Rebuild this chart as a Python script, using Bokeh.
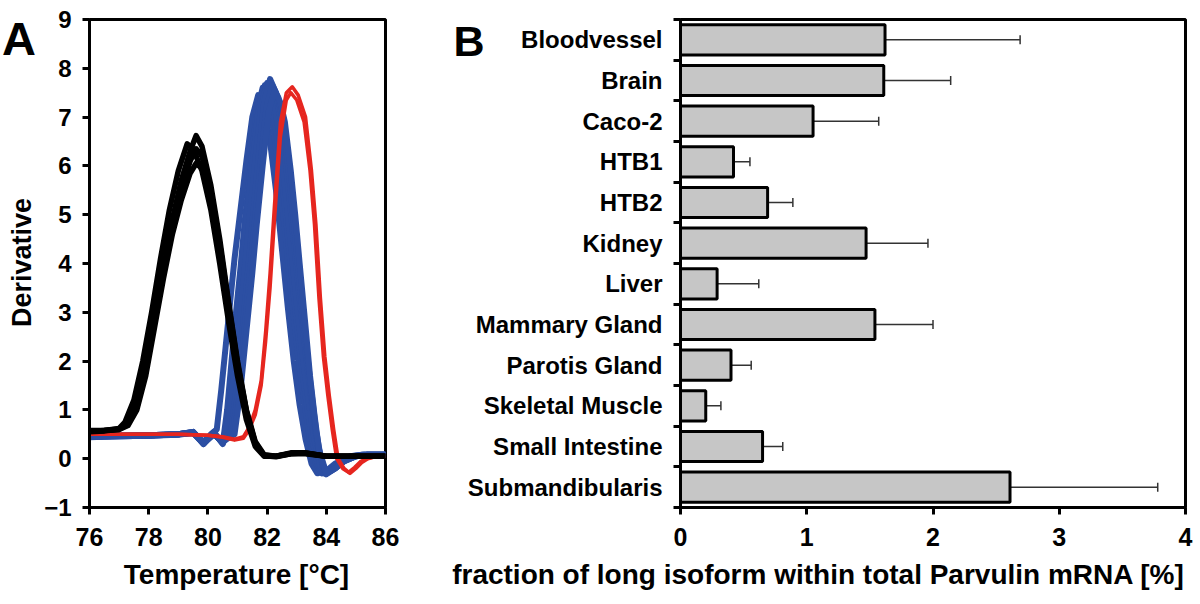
import math
from bokeh.plotting import figure
from bokeh.layouts import row, column
from bokeh.models import ColumnDataSource, Whisker, TeeHead, FixedTicker, Label, Range1d
from bokeh.core.properties import value
from bokeh.embed import file_html
from bokeh.resources import INLINE

FONT = "Liberation Sans"

# ---------------- Panel A: melting curves (derivative) ----------------
black_t = [76, 76.5, 77, 77.3, 77.6, 77.9, 78.2, 78.5, 78.8, 79.1, 79.4, 79.6, 79.8, 80.1, 80.4, 80.7, 81.0, 81.3, 81.6, 81.9, 82.3, 82.8, 83.3, 84, 85, 86]
black1_v = [0.55, 0.57, 0.6, 0.7, 1.1, 1.9, 2.9, 3.9, 4.9, 5.7, 6.3, 6.62, 6.4, 5.6, 4.5, 3.2, 2.0, 1.0, 0.35, 0.08, 0.05, 0.12, 0.12, 0.05, 0.05, 0.05]
black3_v = [0.56, 0.58, 0.6, 0.68, 1.0, 1.7, 2.7, 3.7, 4.6, 5.3, 5.85, 6.05, 5.95, 5.3, 4.3, 3.1, 1.9, 0.95, 0.3, 0.06, 0.04, 0.1, 0.1, 0.05, 0.05, 0.05]
black4_v = [0.57, 0.58, 0.61, 0.72, 1.05, 1.8, 2.8, 3.8, 4.75, 5.5, 6.1, 6.35, 6.2, 5.45, 4.4, 3.15, 1.95, 0.98, 0.32, 0.07, 0.05, 0.11, 0.11, 0.05, 0.05, 0.05]
black2_t = [76, 76.5, 77, 77.2, 77.5, 77.8, 78.1, 78.4, 78.7, 79.0, 79.3, 79.5, 79.8, 80.1, 80.4, 80.7, 81.0, 81.3, 81.6, 81.9, 82.3, 82.8, 83.3, 84, 85, 86]
black2_v = [0.58, 0.58, 0.62, 0.75, 1.2, 2.0, 3.0, 4.1, 5.1, 5.9, 6.45, 6.35, 5.9, 5.1, 4.0, 2.8, 1.7, 0.8, 0.25, 0.05, 0.05, 0.1, 0.12, 0.05, 0.05, 0.05]

red1_t = [76, 77, 78, 79, 80, 80.5, 80.9, 81.2, 81.4, 81.6, 81.8, 81.95, 82.1, 82.25, 82.45, 82.65, 82.85, 83.05, 83.3, 83.5, 83.65, 83.8, 83.95, 84.1, 84.25, 84.4, 84.6, 84.8, 85.0, 85.2, 85.4, 85.7, 86]
red1_v = [0.5, 0.5, 0.5, 0.5, 0.48, 0.45, 0.4, 0.45, 0.65, 1.0, 1.6, 2.6, 3.8, 5.2, 6.9, 7.5, 7.62, 7.45, 7.0, 5.9, 4.8, 3.3, 2.1, 1.3, 0.6, 0.0, -0.2, -0.3, -0.2, -0.08, 0.0, 0.05, 0.05]
red2_t = [76, 77, 78, 79, 80, 80.5, 80.9, 81.2, 81.4, 81.6, 81.8, 81.95, 82.1, 82.25, 82.45, 82.65, 82.8, 83.0, 83.25, 83.45, 83.6, 83.75, 83.9, 84.05, 84.2, 84.35, 84.55, 84.75, 84.95, 85.15, 85.35, 85.7, 86]
red2_v = [0.5, 0.5, 0.5, 0.5, 0.48, 0.44, 0.38, 0.42, 0.6, 0.9, 1.5, 2.4, 3.5, 4.9, 6.6, 7.35, 7.5, 7.35, 6.9, 5.9, 4.8, 3.3, 2.1, 1.3, 0.6, 0.0, -0.2, -0.28, -0.18, -0.06, 0.0, 0.05, 0.05]

blue1_t = [76, 77, 78, 79, 79.5, 79.85, 80.1, 80.3, 80.45, 80.6, 80.75, 80.9, 81.1, 81.3, 81.5, 81.7, 81.9, 82.1, 82.3, 82.5, 82.7, 82.9, 83.1, 83.3, 83.5, 83.7, 84.0, 84.3, 84.7, 85.2, 86]
blue1_v = [0.45, 0.47, 0.48, 0.5, 0.55, 0.3, 0.5, 0.6, 1.4, 2.3, 3.2, 4.1, 5.1, 6.1, 7.0, 7.45, 7.2, 6.5, 5.5, 4.3, 3.1, 2.0, 1.1, 0.4, -0.1, -0.3, -0.25, -0.1, 0.0, 0.08, 0.08]
blue2_t = [76, 77, 78, 79, 79.5, 79.85, 80.2, 80.5, 80.65, 80.8, 80.95, 81.1, 81.25, 81.45, 81.65, 81.85, 82.05, 82.25, 82.45, 82.65, 82.85, 83.05, 83.25, 83.45, 83.65, 83.85, 84.1, 84.4, 84.8, 85.2, 86]
blue2_v = [0.44, 0.46, 0.47, 0.5, 0.52, 0.35, 0.55, 0.3, 1.0, 2.0, 3.0, 3.9, 4.9, 6.0, 7.1, 7.6, 7.35, 6.6, 5.6, 4.4, 3.2, 2.1, 1.2, 0.4, -0.1, -0.3, -0.25, -0.1, 0.05, 0.08, 0.08]
blue2b_t = [76, 77, 78, 79, 79.5, 79.85, 80.2, 80.5, 80.7, 80.85, 81.0, 81.15, 81.3, 81.5, 81.7, 81.92, 82.12, 82.32, 82.52, 82.72, 82.92, 83.12, 83.32, 83.52, 83.72, 83.92, 84.15, 84.45, 84.85, 85.25, 86]
blue2b_v = [0.45, 0.46, 0.47, 0.5, 0.53, 0.33, 0.52, 0.32, 0.9, 1.9, 2.9, 3.9, 4.9, 6.0, 7.1, 7.65, 7.4, 6.65, 5.65, 4.45, 3.25, 2.15, 1.2, 0.4, -0.12, -0.3, -0.22, -0.08, 0.05, 0.08, 0.08]
blue3_t = [76, 77, 78, 79, 79.5, 79.85, 80.2, 80.5, 80.7, 80.9, 81.1, 81.25, 81.4, 81.6, 81.8, 82.0, 82.2, 82.4, 82.6, 82.8, 83.0, 83.2, 83.4, 83.6, 83.8, 84.0, 84.2, 84.5, 84.9, 85.3, 86]
blue3_v = [0.46, 0.47, 0.48, 0.5, 0.54, 0.32, 0.5, 0.35, 0.8, 1.8, 2.9, 3.9, 4.9, 6.1, 7.2, 7.7, 7.45, 6.7, 5.6, 4.4, 3.2, 2.1, 1.2, 0.4, -0.15, -0.3, -0.2, -0.05, 0.05, 0.08, 0.08]
blue4_t = [76, 77, 78, 79, 79.5, 79.85, 80.2, 80.5, 80.8, 81.0, 81.2, 81.35, 81.5, 81.7, 81.9, 82.1, 82.3, 82.5, 82.7, 82.9, 83.1, 83.3, 83.5, 83.7, 83.9, 84.0, 84.3, 84.6, 85.0, 85.4, 86]
blue4_v = [0.45, 0.46, 0.47, 0.49, 0.53, 0.3, 0.52, 0.32, 0.6, 1.6, 2.8, 3.8, 4.8, 6.1, 7.3, 7.78, 7.5, 6.8, 5.7, 4.5, 3.3, 2.2, 1.2, 0.3, -0.2, -0.32, -0.2, -0.05, 0.05, 0.08, 0.08]
blue4b_t = [76, 77, 78, 79, 79.5, 79.85, 80.2, 80.5, 80.85, 81.05, 81.25, 81.42, 81.58, 81.78, 81.98, 82.18, 82.38, 82.55, 82.75, 82.92, 83.1, 83.3, 83.48, 83.65, 83.82, 84.0, 84.3, 84.6, 85.0, 85.4, 86]
blue4b_v = [0.46, 0.47, 0.48, 0.5, 0.54, 0.31, 0.51, 0.33, 0.55, 1.5, 2.7, 3.8, 4.8, 6.05, 7.2, 7.65, 7.4, 6.85, 5.8, 4.75, 3.6, 2.45, 1.45, 0.6, 0.0, -0.3, -0.2, -0.05, 0.05, 0.08, 0.08]
blue5_t = [76, 77, 78, 79, 79.5, 79.85, 80.2, 80.5, 80.9, 81.1, 81.3, 81.5, 81.65, 81.85, 82.05, 82.25, 82.45, 82.6, 82.8, 82.95, 83.1, 83.3, 83.45, 83.6, 83.75, 84.0, 84.3, 84.6, 85.0, 85.4, 86]
blue5_v = [0.46, 0.47, 0.48, 0.5, 0.55, 0.33, 0.5, 0.35, 0.5, 1.4, 2.6, 3.8, 4.8, 6.0, 7.1, 7.55, 7.3, 6.9, 5.9, 5.0, 4.0, 2.7, 1.7, 0.9, 0.2, -0.3, -0.2, -0.05, 0.05, 0.08, 0.08]

x_ticks_A = [76, 78, 80, 82, 84, 86]
y_ticks_A = [-1, 0, 1, 2, 3, 4, 5, 6, 7, 8, 9]

# ---------------- Panel B: bar chart ----------------
tissues = ["Bloodvessel", "Brain", "Caco-2", "HTB1", "HTB2", "Kidney", "Liver",
           "Mammary Gland", "Parotis Gland", "Skeletal Muscle", "Small Intestine",
           "Submandibularis"]
fraction = [1.62, 1.61, 1.05, 0.42, 0.69, 1.47, 0.29, 1.54, 0.40, 0.20, 0.65, 2.61]
err_low = [0.85, 1.17, 0.60, 0.32, 0.51, 1.13, 0.03, 1.15, 0.25, 0.11, 0.52, 1.73]
err_high = [2.69, 2.14, 1.57, 0.55, 0.89, 1.96, 0.62, 2.00, 0.56, 0.32, 0.81, 3.78]
x_ticks_B = [0, 1, 2, 3, 4]

BLUE = "#2c4fa3"
RED = "#e6261f"

TOP_H = 557      # height of the row holding the two panels
TOP_B = 19       # border above the plot frames
BOT_B = 50       # border below the plot frames (tick labels)
STRIP_H = 45     # bottom strip with the axis titles


def style_axes(p):
    for ax in (p.xaxis + p.yaxis):
        ax.axis_line_width = 3
        ax.axis_line_color = "black"
        ax.major_tick_line_width = 3
        ax.minor_tick_line_width = 3
        ax.major_tick_in = 0
        ax.major_tick_out = 7
        ax.minor_tick_in = 0
        ax.minor_tick_out = 0
        ax.major_label_text_font = FONT
        ax.major_label_text_font_style = "bold"
        ax.major_label_text_color = "black"
    p.grid.visible = False
    p.outline_line_color = "black"
    p.outline_line_width = 3
    p.outline_line_alpha = 1.0


def text_strip(width, height, y_range, x_range):
    s = figure(width=width, height=height, x_range=x_range, y_range=y_range,
               output_backend="svg", toolbar_location=None,
               x_axis_type=None, y_axis_type=None,
               min_border_left=0, min_border_right=0,
               min_border_top=TOP_B if height == TOP_H else 0,
               min_border_bottom=BOT_B if height == TOP_H else 0)
    s.grid.visible = False
    s.outline_line_color = None
    return s


# Panel A plot
pA = figure(width=360, height=TOP_H, x_range=Range1d(76, 86), y_range=Range1d(-1, 9),
            output_backend="svg", toolbar_location=None,
            min_border_left=49, min_border_right=15, min_border_top=TOP_B, min_border_bottom=BOT_B)
for t, v in [(blue1_t, blue1_v), (blue2_t, blue2_v), (blue2b_t, blue2b_v), (blue3_t, blue3_v),
             (blue4_t, blue4_v), (blue4b_t, blue4b_v), (blue5_t, blue5_v)]:
    pA.line(t, v, line_color=BLUE, line_width=6, line_join="round")
for t, v in [(red1_t, red1_v), (red2_t, red2_v)]:
    pA.line(t, v, line_color=RED, line_width=3.5, line_join="round")
for t, v in [(black_t, black1_v), (black2_t, black2_v), (black_t, black4_v), (black_t, black3_v)]:
    pA.line(t, v, line_color="black", line_width=5.5, line_join="round")

style_axes(pA)
pA.xaxis.ticker = FixedTicker(ticks=x_ticks_A)
pA.yaxis.ticker = FixedTicker(ticks=y_ticks_A)
pA.xaxis.major_label_text_font_size = "25px"
pA.yaxis.major_label_text_font_size = "24px"
pA.xaxis.major_label_standoff = 13
pA.yaxis.major_label_standoff = 11

# Strip left of panel A: panel letter and y-axis title
sA = text_strip(40, TOP_H, Range1d(-1, 9), Range1d(0, 40))
sA.add_layout(Label(x=1.5, y=8.61, text="A", text_font=FONT, text_font_style="bold",
                    text_font_size="47px", text_color="black", text_baseline="alphabetic"))
sA.add_layout(Label(x=21, y=4.02, text="Derivative", angle=math.pi / 2, text_font=FONT,
                    text_font_style="bold", text_font_size="27px", text_color="black",
                    text_align="center", text_baseline="middle"))

# Panel B plot
n = len(tissues)
centers = [n - i - 0.5 for i in range(n)]
bounds = list(range(n + 1))
src = ColumnDataSource(dict(y=centers, val=fraction, lo=err_low, hi=err_high, name=tissues))

pB = figure(width=528, height=TOP_H, x_range=Range1d(0, 4), y_range=Range1d(0, n),
            output_backend="svg", toolbar_location=None,
            min_border_left=8, min_border_right=15, min_border_top=TOP_B, min_border_bottom=BOT_B)
pB.hbar(y="y", left=0, right="val", height=0.74, source=src,
        fill_color="#c6c6c6", line_color="black", line_width=3)
pB.add_layout(Whisker(base="y", lower="lo", upper="hi", dimension="width", source=src,
                      line_color="#333333", line_width=1.5,
                      upper_head=TeeHead(size=9, line_color="#333333", line_width=1.5),
                      lower_head=TeeHead(size=9, line_color="#333333", line_width=1.5)))
style_axes(pB)
pB.xaxis.ticker = FixedTicker(ticks=x_ticks_B)
pB.xaxis.major_label_text_font_size = "25px"
pB.xaxis.major_label_standoff = 13
pB.yaxis.ticker = FixedTicker(ticks=[], minor_ticks=bounds)
pB.yaxis.major_tick_out = 0
pB.yaxis.minor_tick_out = 7
pB.yaxis.major_label_standoff = 0

# Strip left of panel B: panel letter and category names
sB = text_strip(272, TOP_H, Range1d(0, n), Range1d(0, 272))
sB.text(x=262, y="y", text="name", source=src, text_align="right", text_baseline="middle",
        text_font=value(FONT), text_font_style="bold", text_font_size="24px", text_color="black")
sB.add_layout(Label(x=53, y=11.48, text="B", text_font=FONT, text_font_style="bold",
                    text_font_size="43px", text_color="black", text_baseline="alphabetic"))

# Bottom strip: x-axis titles of both panels
sX = text_strip(1200, STRIP_H, Range1d(0, STRIP_H), Range1d(0, 1200))
sX.add_layout(Label(x=236, y=28, text="Temperature [°C]", text_font=FONT, text_font_style="bold",
                    text_font_size="28px", text_color="black", text_align="center",
                    text_baseline="middle"))
sX.add_layout(Label(x=818, y=28, text="fraction of long isoform within total Parvulin mRNA [%]",
                    text_font=FONT, text_font_style="bold", text_font_size="28px",
                    text_color="black", text_align="center", text_baseline="middle"))

layout = column(row(sA, pA, sB, pB), sX)
open("out.html", "w").write(file_html(layout, INLINE))
